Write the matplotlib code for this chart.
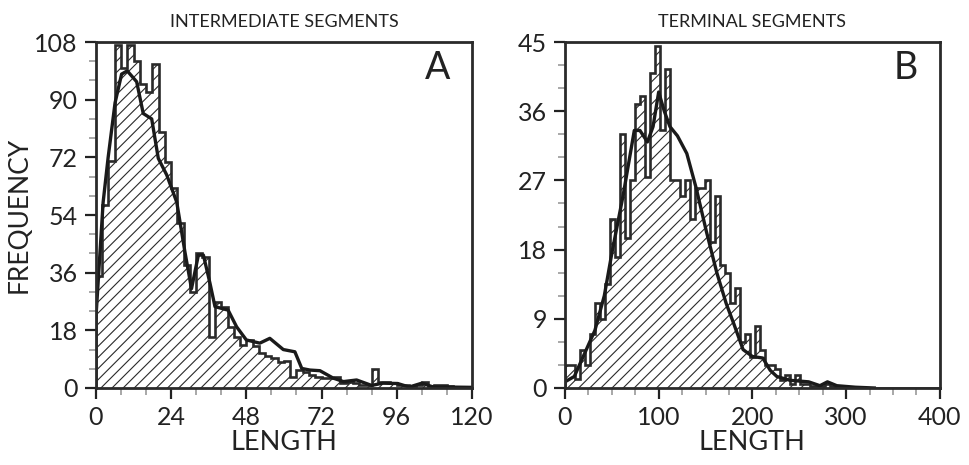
import numpy as np
import matplotlib
matplotlib.use("Agg")
from matplotlib import pyplot as plt
from matplotlib.ticker import MultipleLocator

plt.rcParams["font.family"] = ["Lato", "DejaVu Sans"]
plt.rcParams["hatch.linewidth"] = 0.8

# panel A - intermediate segments, bins of 2 units
a_bin = 2
a_counts = [35, 57, 71, 107, 100, 107, 102, 95, 92.5, 101,
            80, 70.6, 62.4, 51.5, 38.4, 30, 42, 41, 16, 27,
            25.4, 19, 16, 13.5, 15, 13, 11, 10, 9.5, 8,
            8.5, 3.5, 5.5, 5, 4, 3.5, 3, 3, 3.5, 1.5,
            2, 1.5, 1, 1, 6, 2, 2, 1.5, 1, 1,
            0.5, 1, 2, 0.5, 1, 1, 0.5, 0.3, 0.3, 0]
a_line_x = [0, 2.3, 3.9, 6.1, 8.2, 10, 13, 15.1, 17.8, 19.9, 22.6, 25.8, 28.4,
            30.5, 32.7, 34.3, 36.4, 38, 42.2, 44.9, 48, 52.3, 55.5, 59.8, 63.5,
            65.7, 68.3, 71.5, 75.7, 79, 83.2, 88, 91.5, 96.3, 100, 104, 107.7,
            112, 120]
a_line_y = [22, 58, 72, 89, 98, 99, 95.6, 85.7, 84, 71.7, 66.5, 58, 42.5,
            31, 41.5, 41.5, 32.7, 25.4, 24.3, 19.1, 15, 14, 15.5, 12, 11.3,
            6.1, 5.6, 5.4, 3.1, 2, 2.5, 0.8, 1.5, 1.4, 0.3, 1.5, 0.3,
            0.3, 0.2]

# panel B - terminal segments, 75 bins over 0-400
b_bin = 400 / 75
b_counts = [3, 3, 1.2, 5, 3, 7, 11, 9, 13.5, 22,
            17, 33, 19.5, 27, 37, 38, 27.5, 41, 44.5, 33.5,
            41.5, 27, 27, 25, 27, 22, 26, 26, 27, 19,
            25, 16, 15, 11, 13, 6, 7, 4, 8, 5,
            3, 3, 2.5, 1, 1.7, 0.5, 1.7, 0.5, 0.5, 0.3,
            0.3, 0.3, 0.5, 0.3] + [0] * 21
b_line_x = [0, 10, 21, 32, 42, 50, 62, 74, 80, 88, 94, 100, 106, 112, 120,
            130, 140, 151, 162, 172, 180, 190, 200, 211, 219, 226, 240, 260,
            272, 280, 290, 310, 330]
b_line_y = [0.8, 1.5, 4.5, 7.5, 12, 17.5, 25, 33.5, 33.5, 32, 34, 38.5, 36,
            34, 32.8, 30.5, 26, 20.3, 15, 11, 8.4, 5, 4.1, 3.9, 2.3, 1.5, 1,
            0.8, 0.3, 0.8, 0.3, 0.1, 0]

panels = [
    dict(counts=a_counts, bw=a_bin, lx=a_line_x, ly=a_line_y, xmax=120, ymax=108,
         xmaj=24, xmin=8, ymaj=18, ymin=6, title="INTERMEDIATE SEGMENTS", tag="A",
         rect=[0.099, 0.1656, 0.388, 0.744]),
    dict(counts=b_counts, bw=b_bin, lx=b_line_x, ly=b_line_y, xmax=400, ymax=45,
         xmaj=100, xmin=25, ymaj=9, ymin=3, title="TERMINAL SEGMENTS", tag="B",
         rect=[0.583, 0.1656, 0.387, 0.744]),
]

fig = plt.figure(figsize=(9.69, 4.65), dpi=100)

for i, p in enumerate(panels):
    ax = fig.add_axes(p["rect"])
    edges = np.arange(len(p["counts"]) + 1) * p["bw"]
    ax.stairs(p["counts"], edges, fill=True, hatch="///", facecolor="white",
              edgecolor="#2a2a2a", linewidth=1.9)
    ax.plot(p["lx"], p["ly"], color="#1a1a1a", linewidth=2.4)

    ax.set_xlim(0, p["xmax"])
    ax.set_ylim(0, p["ymax"])
    ax.xaxis.set_major_locator(MultipleLocator(p["xmaj"]))
    ax.xaxis.set_minor_locator(MultipleLocator(p["xmin"]))
    ax.yaxis.set_major_locator(MultipleLocator(p["ymaj"]))
    ax.yaxis.set_minor_locator(MultipleLocator(p["ymin"]))
    ax.tick_params(which="major", direction="out", length=8, width=1.6,
                   labelsize=18, colors="#222222", pad=5)
    ax.tick_params(which="minor", direction="out", length=5, width=1.2,
                   color="#999999")
    for s in ax.spines.values():
        s.set_linewidth(2)
        s.set_color("#2a2a2a")

    ax.set_title(p["title"], fontsize=13, pad=11, color="#222222")
    ax.set_xlabel("LENGTH", fontsize=19.5, color="#222222", labelpad=1)
    if i == 0:
        ax.set_ylabel("FREQUENCY", fontsize=19, color="#222222", labelpad=2)
    ax.text(0.91, 0.925, p["tag"], transform=ax.transAxes, fontsize=27,
            ha="center", va="center", color="#222222")

fig.savefig("out.png", dpi=100)
